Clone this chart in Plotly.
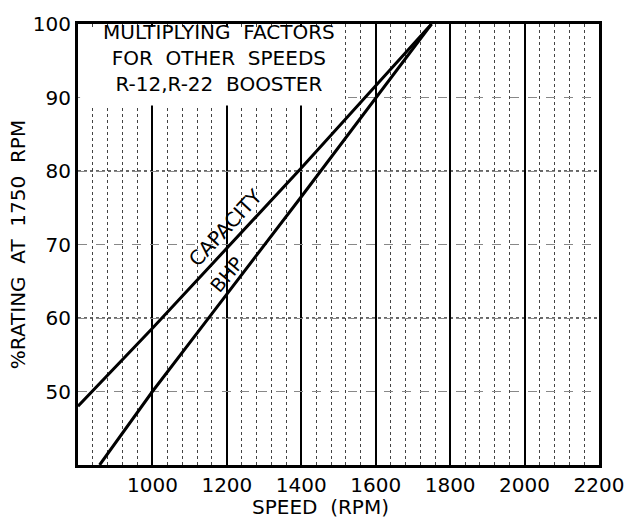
import plotly.graph_objects as go

# Data
cap_rpm = [800, 1000, 1400, 1750]
cap_pct = [48, 58.6, 80.4, 100]
bhp_rpm = [858, 1000, 1160, 1400, 1750]
bhp_pct = [40, 50, 60.6, 76.5, 100]

x_ticks = [1000, 1200, 1400, 1600, 1800, 2000, 2200]
y_ticks = [50, 60, 70, 80, 90, 100]
heavy_y = [60, 80]

FONT = "DejaVu Sans"
SP = "&nbsp;"

fig = go.Figure()
fig.add_trace(go.Scatter(x=cap_rpm, y=cap_pct, mode="lines",
                         line=dict(color="black", width=3), showlegend=False))
fig.add_trace(go.Scatter(x=bhp_rpm, y=bhp_pct, mode="lines",
                         line=dict(color="black", width=3), showlegend=False))

for yv in heavy_y:
    fig.add_shape(type="line", xref="paper", x0=0, x1=1, yref="y", y0=yv, y1=yv,
                  line=dict(color="#666", width=2, dash="dot"), layer="below")

# white backing of the title block
fig.add_shape(type="rect", xref="paper", yref="paper",
              x0=0.004, x1=0.51, y0=0.815, y1=0.993,
              fillcolor="white", line=dict(width=0), layer="above")

fig.add_annotation(text="CAPACITY", x=1195, y=72.3, xref="x", yref="y",
                   showarrow=False, textangle=-47,
                   font=dict(family=FONT, size=20, color="black"))
fig.add_annotation(text="BHP", x=1200, y=66, xref="x", yref="y",
                   showarrow=False, textangle=-50,
                   font=dict(family=FONT, size=19, color="black"))

fig.add_annotation(text=f"MULTIPLYING{SP}{SP}FACTORS<br>FOR{SP}{SP}OTHER{SP}{SP}SPEEDS<br>R-12,R-22{SP}{SP}BOOSTER",
                   xref="paper", yref="paper", x=0.27, y=0.923,
                   xanchor="center", yanchor="middle", showarrow=False,
                   align="center",
                   font=dict(family=FONT, size=20, color="black"))

fig.add_annotation(text=f"SPEED{SP}{SP}(RPM)", xref="paper", yref="paper",
                   x=0.466, y=0, yanchor="middle", yshift=-42, showarrow=False,
                   font=dict(family=FONT, size=20, color="black"))

fig.update_xaxes(range=[800, 2200], tickvals=x_ticks,
                 showgrid=True, gridcolor="black", gridwidth=1.5,
                 minor=dict(tick0=800, dtick=40, showgrid=True, gridcolor="#444",
                            griddash="dot", gridwidth=1),
                 showline=True, linecolor="black", linewidth=3, mirror=True,
                 ticks="", zeroline=False,
                 tickfont=dict(family=FONT, size=20, color="black"))
fig.update_yaxes(range=[40, 100], tickvals=y_ticks,
                 showgrid=True, gridcolor="#888", gridwidth=1, griddash="dash",
                 showline=True, linecolor="black", linewidth=3, mirror=True,
                 ticks="", zeroline=False,
                 tickfont=dict(family=FONT, size=20, color="black"),
                 title=dict(text=f"%RATING{SP}{SP}AT{SP}{SP}1750{SP}{SP}RPM", standoff=2,
                            font=dict(family=FONT, size=20, color="black")))

fig.update_layout(width=636, height=525,
                  margin=dict(l=78, r=28, t=13, b=60),
                  paper_bgcolor="white", plot_bgcolor="white",
                  font=dict(family=FONT, color="black"))

fig.write_html("out.html")
